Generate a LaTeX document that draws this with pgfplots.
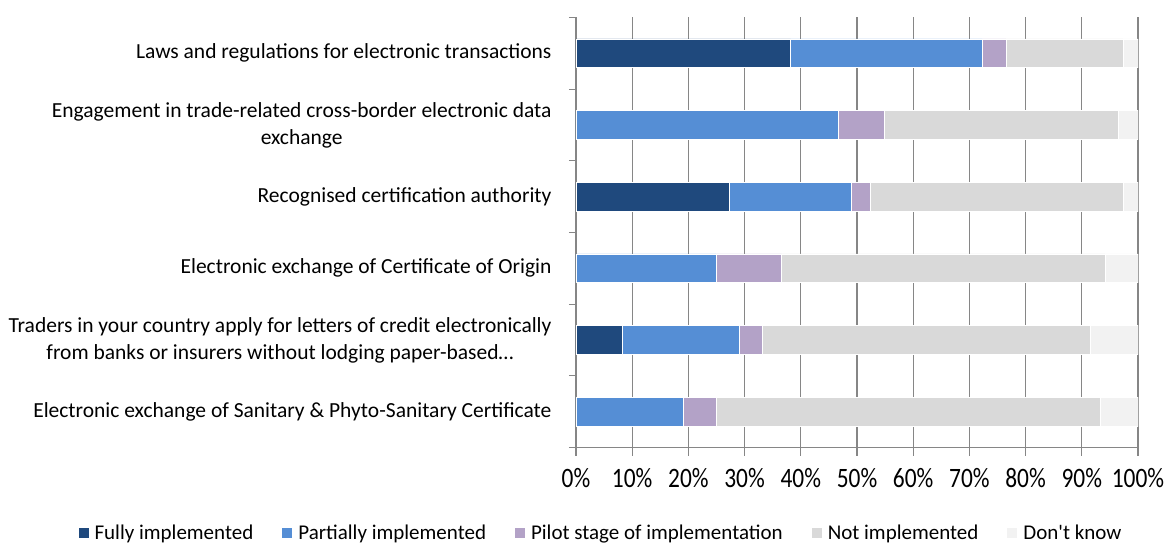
\documentclass[border=0pt]{standalone}
\usepackage{pgfplots}
\pgfplotsset{compat=1.18}
\usepackage{fontspec}
\setmainfont{Carlito}[Ligatures=TeXOff]
\definecolor{cFull}{HTML}{1F497D}
\definecolor{cPart}{HTML}{558ED5}
\definecolor{cPilot}{HTML}{B3A2C7}
\definecolor{cNot}{HTML}{D9D9D9}
\definecolor{cDk}{HTML}{F2F2F2}
\definecolor{cGrid}{HTML}{868686}
\begin{document}
\begin{tikzpicture}
\begin{axis}[
  scale only axis,
  width=562pt, height=430pt,
  xbar stacked,
  bar width=28.7pt,
  xmin=0, xmax=100,
  ymin=-0.5, ymax=5.5,
  axis x line*=bottom,
  axis y line*=left,
  axis line style={cGrid, line width=1.2pt},
  xmajorgrids,
  grid style={cGrid, line width=1.2pt},
  tick align=outside,
  major tick length=8pt,
  minor tick length=7pt,
  tick style={cGrid, line width=1.2pt},
  xtick={0,10,...,100},
  xticklabel={\scalebox{1}[1.2]{\pgfmathprintnumber[assume math mode=true]{\tick}\%}},
  xticklabel style={font=\fontsize{23.4}{28}\selectfont, anchor=base, yshift=-32pt},
  ytick={0,1,2,3,4,5},
  yticklabels={
    Electronic exchange of Sanitary \& Phyto-Sanitary Certificate,
    {Traders in your country apply for letters of credit electronically\\from banks or insurers without lodging paper-based…},
    Electronic exchange of Certificate of Origin,
    Recognised certification authority,
    {Engagement in trade-related cross-border electronic data\\exchange},
    Laws and regulations for electronic transactions},
  yticklabel style={font=\fontsize{21.5}{26.8}\selectfont, align=center, anchor=east, xshift=-13pt},
  major y tick style={draw=none},
  minor ytick={-0.5,0.5,...,5.5},
  legend style={at={(axis description cs:0.0445,-0.198)}, anchor=center, draw=none,
    font=\fontsize{21}{25}\selectfont, legend columns=-1,
    /tikz/every even column/.append style={column sep=27pt},
    /tikz/every odd column/.append style={column sep=4pt}},
  legend image code/.code={\fill[#1,draw=none] (0pt,-5pt) rectangle (10pt,5pt);},
  every axis plot/.append style={draw=white, line width=0.4pt},
]
\coordinate (SW) at (rel axis cs:0,0);
\coordinate (NE) at (rel axis cs:1,1);
% y: 0 Sanitary,1 Traders,2 Cert,3 Recognised,4 Engagement,5 Laws
\addplot[fill=cFull] coordinates {(0,0) (8.2,1) (0,2) (27.3,3) (0,4) (38.2,5)};
\addplot[fill=cPart] coordinates {(19.0,0) (20.8,1) (24.9,2) (21.7,3) (46.6,4) (34.1,5)};
\addplot[fill=cPilot] coordinates {(5.9,0) (4.2,1) (11.7,2) (3.4,3) (8.3,4) (4.2,5)};
\addplot[fill=cNot] coordinates {(68.4,0) (58.3,1) (57.5,2) (44.9,3) (41.6,4) (20.8,5)};
\addplot[fill=cDk] coordinates {(6.7,0) (8.5,1) (5.9,2) (2.7,3) (3.5,4) (2.7,5)};
\legend{Fully implemented, Partially implemented, Pilot stage of implementation, Not implemented, Don't know}
\end{axis}
\pgfresetboundingbox
\path[use as bounding box] ([shift={(-576pt,-95.5pt)}]SW) rectangle ([shift={(33pt,17.5pt)}]NE);
\end{tikzpicture}
\end{document}
